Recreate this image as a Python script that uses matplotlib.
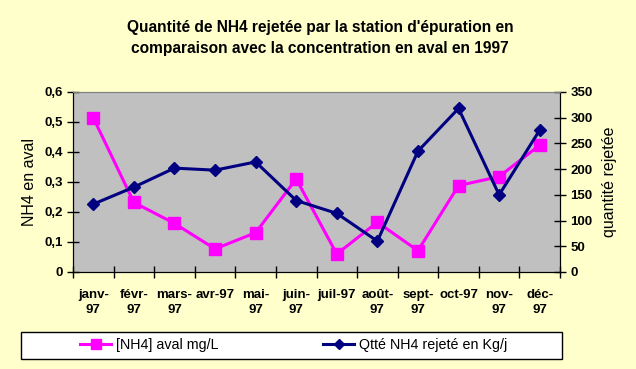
import matplotlib

matplotlib.use("Agg")

import matplotlib.pyplot as plt
from matplotlib.lines import Line2D
from matplotlib.patches import Rectangle

plt.rcParams["font.family"] = ["Liberation Sans", "DejaVu Sans"]

W, H = 636, 369

MONTHS = ["janv-\n97", "févr-\n97", "mars-\n97", "avr-97", "mai-\n97", "juin-\n97",
          "juil-97", "août-\n97", "sept-\n97", "oct-97", "nov-\n97", "déc-\n97"]
NH4_AVAL = [0.514, 0.232, 0.162, 0.077, 0.131, 0.310, 0.060, 0.166, 0.071, 0.288, 0.318, 0.423]
QTE_REJET = [132, 165, 202, 198, 214, 139, 114, 60, 235, 318, 150, 276]

BG = "#FFFFCC"
PLOT_BG = "#C0C0C0"
MAGENTA = "#FF00FF"
NAVY = "#000080"


def px_box(left, top, right, bottom):
    return [left / W, 1 - bottom / H, (right - left) / W, (bottom - top) / H]


fig = plt.figure(figsize=(W / 100, H / 100), dpi=100, facecolor=BG)
ax = fig.add_axes(px_box(73, 92, 560, 272))
ax.set_facecolor(PLOT_BG)
ax2 = ax.twinx()

x = list(range(len(MONTHS)))
ax.plot(x, NH4_AVAL, color=MAGENTA, lw=2.2, marker="s", ms=8.5, mec=MAGENTA, mfc=MAGENTA, zorder=3)
ax2.plot(x, QTE_REJET, color=NAVY, lw=2.2, marker="D", ms=6.5, mec=NAVY, mfc=NAVY, zorder=3)

ax.set_xlim(-0.5, len(MONTHS) - 0.5)
ax.set_ylim(0, 0.6)
ax2.set_ylim(0, 350)

ax.set_yticks([0, 0.1, 0.2, 0.3, 0.4, 0.5, 0.6])
ax.set_yticklabels(["0", "0,1", "0,2", "0,3", "0,4", "0,5", "0,6"])
ax2.set_yticks(range(0, 351, 50))

ax.set_xticks(x)
ax.set_xticklabels(MONTHS, fontweight="bold", fontsize=9.5, linespacing=1.35)
ax.set_xticks([i - 0.5 for i in range(len(MONTHS) + 1)], minor=True)
ax.tick_params(axis="x", which="major", length=0, pad=12)
ax.tick_params(axis="x", which="minor", direction="inout", length=8, width=1)
ax.tick_params(axis="y", direction="inout", length=8, width=1, labelsize=9.5)
ax2.tick_params(axis="y", direction="inout", length=8, width=1, labelsize=9.5)
for lab in ax.get_yticklabels() + ax2.get_yticklabels():
    lab.set_fontweight("bold")

for a in (ax, ax2):
    a.spines["top"].set_color("#808080")
    a.spines["left"].set_color("black")
    a.spines["bottom"].set_color("black")
    a.spines["right"].set_color("black")

ax.set_ylabel("NH4 en aval", fontsize=11.5, labelpad=5)
ax2.set_ylabel("quantité rejetée", fontsize=11.5, labelpad=7)

fig.text(320 / W, 1 - 38 / H,
         "Quantité de NH4 rejetée par la station d'épuration en\n"
         "comparaison avec la concentration en aval en 1997",
         ha="center", va="center", fontsize=11.2, fontweight="bold", linespacing=1.5)

# legend frame, then the two entries placed inside it
fig.patches.append(Rectangle((21 / W, 1 - 359 / H), 541 / W, 27 / H, transform=fig.transFigure,
                             facecolor="white", edgecolor="black", lw=1))
entries = [
    (80, Line2D([], [], color=MAGENTA, lw=2.2, marker="s", ms=7, mfc=MAGENTA, mec=MAGENTA),
     "[NH4] aval mg/L"),
    (323, Line2D([], [], color=NAVY, lw=2.2, marker="D", ms=5.5, mfc=NAVY, mec=NAVY),
     "Qtté NH4 rejeté en Kg/j"),
]
for left, handle, label in entries:
    fig.legend([handle], [label], loc="center left", bbox_to_anchor=(left / W, 1 - 345.5 / H),
               fontsize=10.3, frameon=False, borderaxespad=0, borderpad=0,
               handlelength=2.2, handletextpad=0.3)

fig.savefig("out.png", dpi=100, facecolor=BG)
